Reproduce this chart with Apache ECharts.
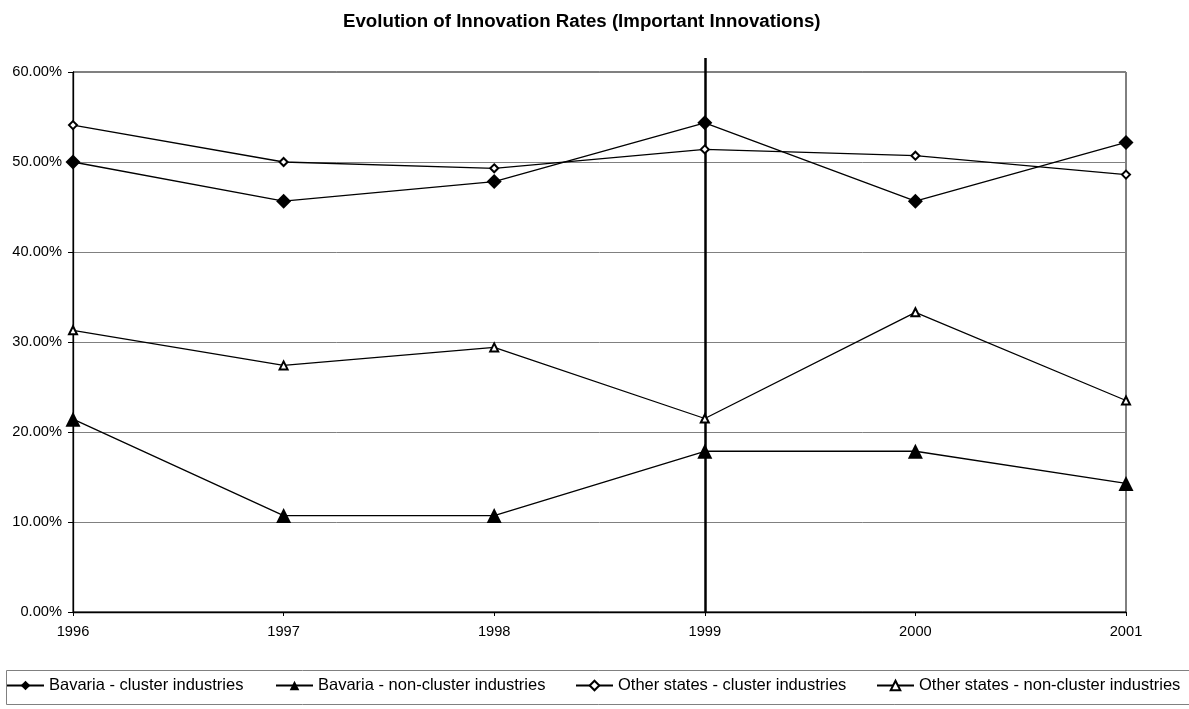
<!DOCTYPE html>
<html>
<head>
<meta charset="utf-8">
<script src="https://cdn.jsdelivr.net/npm/echarts@6/dist/echarts.min.js"></script>
<style>html,body{margin:0;padding:0;background:#fff}#c{width:1189px;height:709px}</style>
</head>
<body>
<div id="c"></div>
<script>
const years = ['1996','1997','1998','1999','2000','2001'];
const bavariaCluster = [50.00, 45.65, 47.83, 54.35, 45.65, 52.17];
const bavariaNonCluster = [21.43, 10.71, 10.71, 17.86, 17.86, 14.29];
const otherCluster = [54.1, 50.0, 49.3, 51.4, 50.7, 48.6];
const otherNonCluster = [31.3, 27.4, 29.4, 21.5, 33.3, 23.5];
const yTicks = [0, 10, 20, 30, 40, 50, 60];
const markYear = '1999';
const seriesNames = ['Bavaria - cluster industries','Bavaria - non-cluster industries','Other states - cluster industries','Other states - non-cluster industries'];

const font = 'Liberation Sans, Arial, sans-serif';
const chart = echarts.init(document.getElementById('c'), null, {renderer:'canvas'});
function mk(name, data, symbol, size, extra) {
  return Object.assign({
    name, type:'line', data, symbol, symbolSize:size,
    itemStyle:{color:'#000', borderColor:'#000', borderWidth:0},
    lineStyle:{color:'#000', width:1.3},
    emphasis:{disabled:true}, animation:false, z:5
  }, extra||{});
}
const legendLefts = [6, 275, 575, 876];
const legendTextStyle = {fontFamily:font, fontSize:16.5, color:'#000'};
chart.setOption({
  animation:false,
  backgroundColor:'#fff',
  title:{text:'Evolution of Innovation Rates (Important Innovations)', left:338, top:7,
    textStyle:{fontFamily:font, fontSize:18.7, fontWeight:'bold', color:'#000'}},
  grid:[
    {left:73, right:63, top:72, bottom:97, show:true, borderColor:'#000', borderWidth:1},
    {left:73, right:63, top:58, bottom:97, show:false}
  ],
  xAxis:[
    {type:'category', data:years, boundaryGap:false, gridIndex:0,
      axisLine:{lineStyle:{color:'#000', width:1.3}},
      axisTick:{show:true, length:4, lineStyle:{color:'#000'}},
      axisLabel:{fontFamily:font, fontSize:14.67, color:'#000', margin:12},
      splitLine:{show:false}},
    {type:'category', data:years, boundaryGap:false, gridIndex:1, show:false}
  ],
  yAxis:[
    {type:'value', min:yTicks[0], max:yTicks[yTicks.length-1], interval:10, gridIndex:0,
      axisLine:{show:true, lineStyle:{color:'#000', width:1.3}},
      axisTick:{show:true, length:5, lineStyle:{color:'#000'}},
      axisLabel:{fontFamily:font, fontSize:14.67, color:'#000', margin:11, formatter:v=>v.toFixed(2)+'%'},
      splitLine:{show:true, lineStyle:{color:'#808080', width:1}}},
    {type:'value', min:0, max:60, gridIndex:1, show:false}
  ],
  legend: seriesNames.map((n,i)=>({left:legendLefts[i], top:677, padding:0, itemWidth:37, itemHeight:12, itemGap:5,
    textStyle:legendTextStyle, data:[n], selectedMode:false})),
  graphic:[{type:'rect', left:4, top:668, shape:{width:1200, height:34},
    style:{fill:'none', stroke:'#808080', lineWidth:1}}],
  series:[
    mk(seriesNames[0], bavariaCluster, 'diamond', 15),
    mk(seriesNames[1], bavariaNonCluster, 'triangle', 15),
    mk(seriesNames[2], otherCluster, 'emptyDiamond', 8, {z:6, itemStyle:{color:'#000', borderWidth:1.2}}),
    mk(seriesNames[3], otherNonCluster, 'emptyTriangle', 8, {z:6, itemStyle:{color:'#000', borderWidth:1.2}}),
    {type:'line', xAxisIndex:1, yAxisIndex:1, data:[], silent:true, z:4,
      markLine:{silent:true, symbol:'none', animation:false, label:{show:false},
        lineStyle:{color:'#000', width:2.5, type:'solid'},
        data:[{xAxis:markYear}]}}
  ]
});
</script>
</body>
</html>
